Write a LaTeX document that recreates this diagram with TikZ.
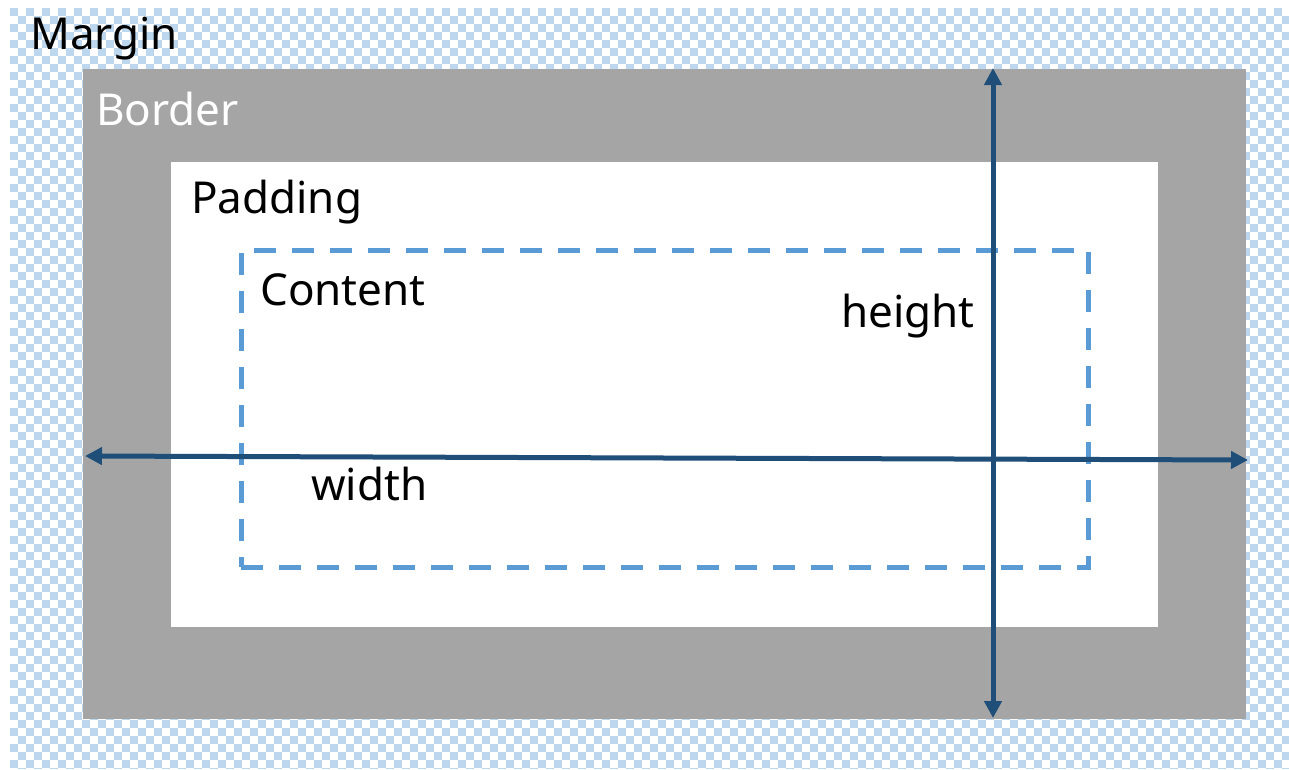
\documentclass[tikz,border=0pt]{standalone}
\usepackage{fontspec}
\setmainfont{Noto Sans}
\usetikzlibrary{arrows.meta}
\definecolor{checkblue}{HTML}{BDD7EE}
\definecolor{bordergray}{HTML}{A5A5A5}
\definecolor{contentblue}{HTML}{5B9BD5}
\definecolor{arrowblue}{HTML}{1F4E79}
\begin{document}
\begin{tikzpicture}[x=1pt,y=-1pt,
  checkrow/.style={draw=checkblue,line width=8pt,dash pattern=on 8pt off 8pt},
  label/.style={anchor=base west,inner sep=0pt,font=\fontsize{44}{52}\selectfont},
  dimarrow/.style={draw=arrowblue,line width=5pt,{Triangle[length=17pt,width=17pt]}-{Triangle[length=17pt,width=17pt]}},
  contentbox/.style={draw=contentblue,line width=5pt,dash pattern=on 22pt off 16pt}
]
\useasboundingbox (0,0) rectangle (1289,769);
\fill[white] (0,0) rectangle (1289,769);
\begin{scope}
\clip (10,8) rectangle (1289,768);
\foreach \r in {0,2,...,94}{
  \draw[checkrow,dash phase=0pt] (10,{12+8*\r}) -- (1289,{12+8*\r});
  \draw[checkrow,dash phase=8pt] (10,{20+8*\r}) -- (1289,{20+8*\r});
}
\end{scope}
% border area
\node (border) [fill=bordergray,inner sep=0pt,outer sep=0pt,minimum width=1163pt,minimum height=650pt,anchor=north west] at (83,69) {};
% padding area
\node (padding) [fill=white,inner sep=0pt,outer sep=0pt,minimum width=987pt,minimum height=465pt,anchor=north west] at (171,162) {};
% content area
\node (content) [contentbox,inner sep=0pt,outer sep=0pt,minimum width=847pt,minimum height=317pt,anchor=north west] at (241,250) {};
% labels
\node (tmargin) [label] at (30,49) {Margin};
\node (tborder) [label,text=white] at (96,125) {Border};
\node (tpadding) [label] at (191,213) {Padding};
\node (tcontent) [label] at (260,305) {Content};
\node (theight) [label] at (841,327) {height};
\node (twidth) [label] at (311,500) {width};
% arrows
\coordinate (wl) at (85,456);
\coordinate (wr) at (1248,460);
\coordinate (ht) at (993,68);
\coordinate (hb) at (993,718);
\draw[dimarrow] (wl) -- (wr);
\draw[dimarrow] (ht) -- (hb);
\end{tikzpicture}
\end{document}
